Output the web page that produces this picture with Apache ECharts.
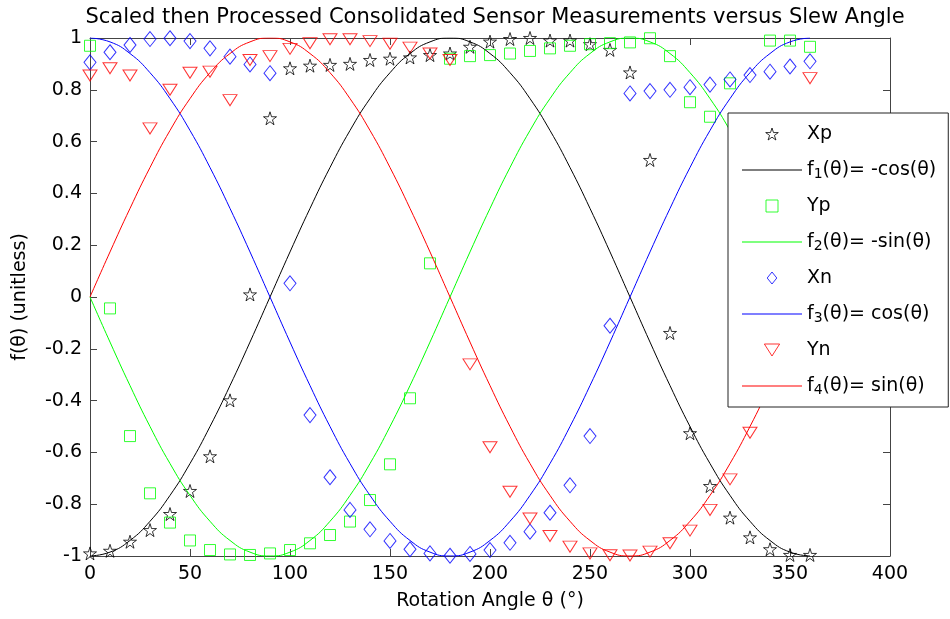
<!DOCTYPE html>
<html>
<head>
<meta charset="utf-8">
<title>Slew Angle</title>
<script src="https://cdn.jsdelivr.net/npm/echarts@6/dist/echarts.min.js"></script>
<style>
  html, body { margin: 0; padding: 0; background: #fff; }
  #chart { width: 950px; height: 619px; }
</style>
</head>
<body>
<div id="chart"></div>
<script>
  // rotation angles (deg)
  var theta = [0, 10, 20, 30, 40, 50, 60, 70, 80, 90, 100, 110, 120, 130, 140, 150, 160, 170, 180,
    190, 200, 210, 220, 230, 240, 250, 260, 270, 280, 290, 300, 310, 320, 330, 340, 350, 360];

  var xp = [-0.99, -0.98, -0.945, -0.90, -0.838, -0.749, -0.615, -0.399, 0.01, 0.69, 0.883, 0.893, 0.896,
    0.90, 0.915, 0.92, 0.925, 0.934, 0.94, 0.966, 0.986, 0.996, 1.0, 0.99, 0.99, 0.976, 0.954, 0.867,
    0.529, -0.139, -0.526, -0.73, -0.852, -0.928, -0.974, -0.996, -0.996];
  var yp = [0.97, -0.044, -0.537, -0.758, -0.871, -0.94, -0.977, -0.994, -0.996, -0.99, -0.977, -0.951,
    -0.919, -0.867, -0.784, -0.646, -0.391, 0.13, 0.92, 0.93, 0.934, 0.94, 0.95, 0.96, 0.97, 0.976,
    0.98, 0.983, 0.999, 0.93, 0.752, 0.696, 0.825, 0.55, 0.99, 0.99, 0.966];
  var xn = [0.906, 0.945, 0.973, 0.996, 0.999, 0.988, 0.96, 0.928, 0.898, 0.864, 0.053, -0.456, -0.696,
    -0.822, -0.897, -0.942, -0.974, -0.99, -0.999, -0.992, -0.977, -0.949, -0.906, -0.833, -0.727,
    -0.537, -0.111, 0.786, 0.795, 0.80, 0.81, 0.82, 0.84, 0.857, 0.87, 0.89, 0.91];
  var yn = [0.855, 0.883, 0.855, 0.651, 0.80, 0.866, 0.87, 0.76, 0.915, 0.93, 0.958, 0.98, 0.995, 0.995,
    0.988, 0.978, 0.963, 0.94, 0.915, -0.26, -0.58, -0.752, -0.855, -0.923, -0.964, -0.99, -0.997,
    -0.998, -0.983, -0.951, -0.902, -0.822, -0.704, -0.524, -0.3, -0.1, 0.845];

  // reference curves, sampled every 10 deg
  var f1 = [-1, -0.985, -0.94, -0.866, -0.766, -0.643, -0.5, -0.342, -0.174, 0, 0.174, 0.342, 0.5, 0.643,
    0.766, 0.866, 0.94, 0.985, 1, 0.985, 0.94, 0.866, 0.766, 0.643, 0.5, 0.342, 0.174, 0, -0.174,
    -0.342, -0.5, -0.643, -0.766, -0.866, -0.94, -0.985, -1];
  var f2 = [0, -0.174, -0.342, -0.5, -0.643, -0.766, -0.866, -0.94, -0.985, -1, -0.985, -0.94, -0.866,
    -0.766, -0.643, -0.5, -0.342, -0.174, 0, 0.174, 0.342, 0.5, 0.643, 0.766, 0.866, 0.94, 0.985, 1,
    0.985, 0.94, 0.866, 0.766, 0.643, 0.5, 0.342, 0.174, 0];
  var f3 = [1, 0.985, 0.94, 0.866, 0.766, 0.643, 0.5, 0.342, 0.174, 0, -0.174, -0.342, -0.5, -0.643,
    -0.766, -0.866, -0.94, -0.985, -1, -0.985, -0.94, -0.866, -0.766, -0.643, -0.5, -0.342, -0.174, 0,
    0.174, 0.342, 0.5, 0.643, 0.766, 0.866, 0.94, 0.985, 1];
  var f4 = [0, 0.174, 0.342, 0.5, 0.643, 0.766, 0.866, 0.94, 0.985, 1, 0.985, 0.94, 0.866, 0.766, 0.643,
    0.5, 0.342, 0.174, 0, -0.174, -0.342, -0.5, -0.643, -0.766, -0.866, -0.94, -0.985, -1, -0.985,
    -0.94, -0.866, -0.766, -0.643, -0.5, -0.342, -0.174, 0];

  var FONT = "'DejaVu Sans', sans-serif";

  // hollow marker shapes
  var STAR = 'path://M10,0L12.245,6.91L19.51,6.91L13.633,11.18L15.88,18.09L10,13.82L4.12,18.09L6.367,11.18L0.49,6.91L7.755,6.91Z';
  var SQUARE = 'path://M0,0L10,0L10,10L0,10Z';
  var DIAMOND = 'path://M6,0L12,7.5L6,15L0,7.5Z';
  var TRIANGLE = 'path://M0,0L14,0L7,11Z';
  var DASH = 'path://M0,0L60,0L60,1L0,1Z';

  var BLACK = '#000000', GREEN = '#00ff00', BLUE = '#0000ff', RED = '#ff0000';

  function pairs(vals) {
    return theta.map(function (t, i) { return [t, vals[i]]; });
  }

  function markers(name, vals, color, symbol, size) {
    return {
      name: name,
      type: 'scatter',
      data: pairs(vals),
      symbol: symbol,
      symbolSize: size,
      color: color,
      itemStyle: { color: 'rgba(0,0,0,0)', borderColor: color, borderWidth: 1 },
      emphasis: { disabled: true }
    };
  }

  function curve(name, vals, color) {
    return {
      name: name,
      type: 'line',
      data: pairs(vals),
      smooth: true,
      symbol: 'none',
      color: color,
      lineStyle: { color: color, width: 1 },
      emphasis: { disabled: true }
    };
  }

  function markItem(name, color, icon) {
    return { name: name, icon: icon, itemStyle: { color: 'rgba(0,0,0,0)', borderColor: color, borderWidth: 1 } };
  }
  function lineItem(name, color) {
    return { name: name, icon: DASH, itemStyle: { color: color, borderWidth: 0 } };
  }

  var myChart = echarts.init(document.getElementById('chart'));

  var option = {
    animation: false,
    backgroundColor: '#fff',
    textStyle: { fontFamily: FONT },
    title: {
      text: 'Scaled then Processed Consolidated Sensor Measurements versus Slew Angle',
      left: 490,
      textAlign: 'center',
      top: 2,
      textStyle: { fontFamily: FONT, fontSize: 21, fontWeight: 'normal', color: '#000' }
    },
    grid: { left: 90, right: 60, top: 38, bottom: 63, containLabel: false, outerBoundsMode: 'none' },
    legend: {
      orient: 'vertical',
      left: 728,
      top: 113,
      z: 10,
      itemWidth: 60,
      itemHeight: 12,
      itemGap: 14,
      padding: [10, 12, 10, 14],
      backgroundColor: '#fff',
      borderColor: '#222',
      borderWidth: 1,
      borderRadius: 0,
      selectedMode: false,
      data: [
        markItem('Xp', BLACK, STAR), lineItem('f1(θ)= -cos(θ)', BLACK),
        markItem('Yp', GREEN, SQUARE), lineItem('f2(θ)= -sin(θ)', GREEN),
        markItem('Xn', BLUE, DIAMOND), lineItem('f3(θ)= cos(θ)', BLUE),
        markItem('Yn', RED, TRIANGLE), lineItem('f4(θ)= sin(θ)', RED)
      ],
      formatter: function (name) {
        if (name.charAt(0) === 'f') {
          return '{n|f}{s|' + name.charAt(1) + '}{n|' + name.slice(2) + '}';
        }
        return '{n|' + name + '}';
      },
      textStyle: {
        fontFamily: FONT,
        fontSize: 19,
        color: '#000',
        lineHeight: 22,
        rich: {
          n: { fontFamily: FONT, fontSize: 19, color: '#000', lineHeight: 22 },
          s: { fontFamily: FONT, fontSize: 14, color: '#000', lineHeight: 6, verticalAlign: 'bottom' }
        }
      }
    },
    xAxis: [
      {
        type: 'value', min: 0, max: 400, interval: 50,
        name: 'Rotation Angle θ (°)',
        nameLocation: 'middle',
        nameGap: 36,
        nameTextStyle: { fontFamily: FONT, fontSize: 19, color: '#000' },
        axisLine: { show: true, onZero: false, lineStyle: { color: '#444', width: 1 } },
        axisTick: { show: true, inside: true, length: 7, lineStyle: { color: '#444' } },
        axisLabel: { fontFamily: FONT, fontSize: 19, color: '#000', margin: 9, showMinLabel: true, showMaxLabel: true },
        splitLine: { show: false }
      },
      {
        type: 'value', min: 0, max: 400, interval: 50, position: 'top',
        axisLine: { show: true, onZero: false, lineStyle: { color: '#444', width: 1 } },
        axisTick: { show: true, inside: true, length: 7, lineStyle: { color: '#444' } },
        axisLabel: { show: false },
        splitLine: { show: false }
      }
    ],
    yAxis: [
      {
        type: 'value', min: -1, max: 1, interval: 0.2,
        name: 'f(θ) (unitless)',
        nameLocation: 'middle',
        nameGap: 60,
        nameRotate: 90,
        nameTextStyle: { fontFamily: FONT, fontSize: 19, color: '#000' },
        axisLine: { show: true, onZero: false, lineStyle: { color: '#444', width: 1 } },
        axisTick: { show: true, inside: true, length: 7, lineStyle: { color: '#444' } },
        axisLabel: {
          fontFamily: FONT, fontSize: 19, color: '#000', margin: 8, showMinLabel: true, showMaxLabel: true,
          formatter: function (v) { return String(Math.round(v * 10) / 10); }
        },
        splitLine: { show: false }
      },
      {
        type: 'value', min: -1, max: 1, interval: 0.2, position: 'right',
        axisLine: { show: true, onZero: false, lineStyle: { color: '#444', width: 1 } },
        axisTick: { show: true, inside: true, length: 7, lineStyle: { color: '#444' } },
        axisLabel: { show: false },
        splitLine: { show: false }
      }
    ],
    series: [
      markers('Xp', xp, BLACK, STAR, 13),
      curve('f1(θ)= -cos(θ)', f1, BLACK),
      markers('Yp', yp, GREEN, SQUARE, 11),
      curve('f2(θ)= -sin(θ)', f2, GREEN),
      markers('Xn', xn, BLUE, DIAMOND, [12, 15]),
      curve('f3(θ)= cos(θ)', f3, BLUE),
      markers('Yn', yn, RED, TRIANGLE, [14, 11]),
      curve('f4(θ)= sin(θ)', f4, RED)
    ]
  };

  myChart.setOption(option, true);
</script>
</body>
</html>
